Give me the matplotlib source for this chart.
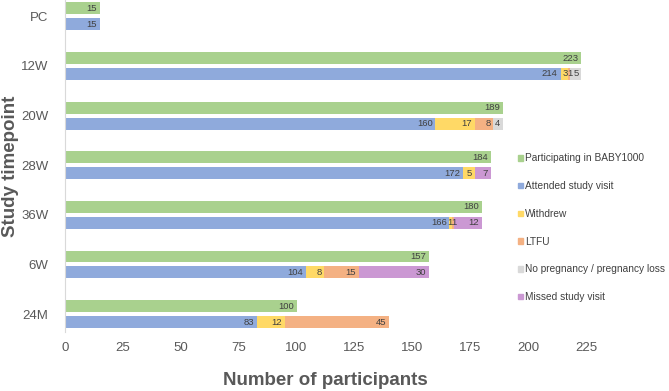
import numpy as np
import matplotlib.pyplot as plt
from matplotlib.patches import Patch

plt.rcParams["font.family"] = ["Liberation Sans", "DejaVu Sans"]

timepoints = ["PC", "12W", "20W", "28W", "36W", "6W", "24M"]
participating = [15, 223, 189, 184, 180, 157, 100]
attended = [15, 214, 160, 172, 166, 104, 83]
withdrew = [0, 3, 17, 5, 1, 8, 12]
ltfu = [0, 1, 8, 0, 1, 15, 45]
no_preg = [0, 5, 4, 0, 0, 0, 0]
missed = [0, 0, 0, 7, 12, 30, 0]

stack_names = ["Attended study visit", "Withdrew", "LTFU",
               "No pregnancy / pregnancy loss", "Missed study visit"]
stack_vals = [attended, withdrew, ltfu, no_preg, missed]
stack_cols = ["#8FAADC", "#FFD966", "#F4B183", "#D9D9D9", "#CB98D3"]
green = "#A9D18E"
txt = "#404040"

fig = plt.figure(figsize=(6.69, 3.91), dpi=100)
ax = fig.add_axes([0.097, 0.151, 0.779, 0.849])

y = np.arange(len(timepoints))
h = 0.24
off = 0.16

ax.barh(y - off, participating, height=h, color=green)
for i, v in enumerate(participating):
    ax.text(v - 1.2, y[i] - off, str(v), ha="right", va="center", fontsize=6.8, color=txt)

left = np.zeros(len(timepoints))
for k, (vals, col) in enumerate(zip(stack_vals, stack_cols)):
    vals = np.array(vals, dtype=float)
    ax.barh(y + off, vals, left=left, height=h, color=col)
    for i, v in enumerate(vals):
        if v <= 0:
            continue
        if v < 4:
            # tiny segments: squeeze the two digits side by side like Excel does
            if k == 1:
                xt, ha = left[i] + v + 0.3, "right"
            else:
                xt, ha = left[i] - 0.3, "left"
        else:
            xt, ha = left[i] + v - 1.2, "right"
        ax.text(xt, y[i] + off, str(int(v)), ha=ha, va="center", fontsize=6.8, color=txt)
    left += vals

ax.set_xlim(0, 225)
ax.set_ylim(6.36, -0.33)
ax.set_xticks(np.arange(0, 226, 25))
ax.set_yticks(y)
ax.set_yticklabels(timepoints)
ax.tick_params(axis="both", length=0, labelsize=9.5, colors="#595959")
ax.tick_params(axis="x", pad=7)
ax.tick_params(axis="y", pad=12)
for s in ["top", "right", "bottom"]:
    ax.spines[s].set_visible(False)
ax.spines["left"].set_color("#D9D9D9")

ax.set_xlabel("Number of participants", fontsize=13.5, fontweight="bold", color="#595959", labelpad=13)
ax.set_ylabel("Study timepoint", fontsize=13.5, fontweight="bold", color="#595959")
ax.yaxis.set_label_coords(-0.088, 0.5)

handles = [Patch(color=green, label="Participating in BABY1000")]
handles += [Patch(color=c, label=n) for c, n in zip(stack_cols, stack_names)]
leg = ax.legend(handles=handles, loc="upper left", bbox_to_anchor=(0.862, 0.55),
                frameon=False, fontsize=7.3, handlelength=0.45, handleheight=0.45,
                handletextpad=0.25, labelspacing=1.75, borderaxespad=0)
for t in leg.get_texts():
    t.set_color(txt)

fig.savefig("out.png", dpi=100)
